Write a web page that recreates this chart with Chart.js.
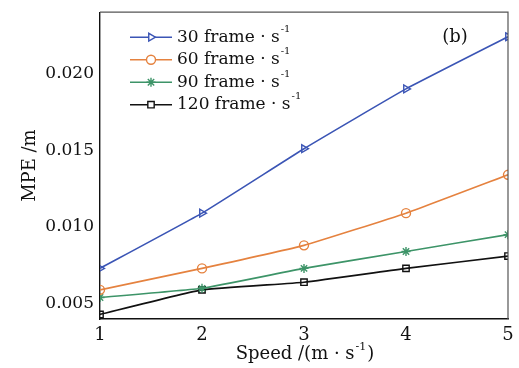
<!DOCTYPE html>
<html>
<head>
<meta charset="utf-8">
<script src="https://cdn.jsdelivr.net/npm/chart.js@4"></script>
<style>
  html, body { margin: 0; padding: 0; background: #fff; }
  #wrap { width: 519px; height: 368px; }
</style>
</head>
<body>
<div id="wrap"><canvas id="c" width="519" height="368"></canvas></div>
<script>
// ---------------------------------------------
// DATA
const speeds = [1, 2, 3, 4, 5];
const mpe30 = [0.0073, 0.0109, 0.0151, 0.0190, 0.0224];
const mpe60 = [0.0059, 0.0073, 0.0088, 0.0109, 0.0134];
const mpe90 = [0.0054, 0.0060, 0.0073, 0.0084, 0.0095];
const mpe120 = [0.0043, 0.0059, 0.0064, 0.0073, 0.0081];
const seriesNames = ["30 frame · s", "60 frame · s", "90 frame · s", "120 frame · s"];
const yTicks = [0.005, 0.010, 0.015, 0.020];

const FONT = "'DejaVu Serif', 'Liberation Serif', serif";
const colors = ["#3b55b5", "#e5823f", "#3d9468", "#111111"];
const styles = [
  { pointStyle: "triangle", rot: 90 },
  { pointStyle: "circle", rot: 0 },
  { pointStyle: "star", rot: 0 },
  { pointStyle: "rect", rot: 0 },
];

function makeSet(i, vals) {
  return {
    label: seriesNames[i],
    data: speeds.map((s, k) => ({ x: s, y: vals[k] })),
    borderColor: colors[i],
    backgroundColor: "#ffffff",
    borderWidth: 1.6,
    pointStyle: styles[i].pointStyle,
    pointRotation: styles[i].rot,
    pointRadius: 4.5,
    pointBorderWidth: 1.4,
    pointBorderColor: colors[i],
    pointBackgroundColor: "rgba(255,255,255,0)",
    tension: 0.12,
  };
}

// ---------------------------------------------
// legend + "(b)" + frame lines drawn by hand (superscripts)
const extras = {
  id: "extras",
  afterDraw(chart) {
    const ctx = chart.ctx;
    const a = chart.chartArea;
    ctx.save();
    // top + right frame
    ctx.strokeStyle = "#555";
    ctx.lineWidth = 1.2;
    ctx.beginPath();
    ctx.moveTo(a.left, a.top);
    ctx.lineTo(a.right, a.top);
    ctx.lineTo(a.right, a.bottom);
    ctx.stroke();

    // legend
    const x0 = a.left + 30;
    let y = a.top + 25;
    seriesNames.forEach((name, i) => {
      ctx.strokeStyle = colors[i];
      ctx.lineWidth = 1.6;
      ctx.beginPath();
      ctx.moveTo(x0, y);
      ctx.lineTo(x0 + 42, y);
      ctx.stroke();
      ctx.lineWidth = 1.4;
      ctx.fillStyle = "#ffffff";
      Chart.helpers.drawPoint(ctx, { pointStyle: styles[i].pointStyle, rotation: styles[i].rot, radius: 4.5, borderWidth: 1.4 }, x0 + 21, y);
      ctx.fillStyle = "#111";
      ctx.font = "17px " + FONT;
      ctx.textBaseline = "middle";
      ctx.textAlign = "left";
      ctx.fillText(name, x0 + 47, y);
      const w = ctx.measureText(name).width;
      ctx.font = "10px " + FONT;
      ctx.fillText("-1", x0 + 47 + w + 1, y - 8);
      y += 22.5;
    });

    // panel label
    ctx.font = "18px " + FONT;
    ctx.fillStyle = "#111";
    ctx.textAlign = "center";
    ctx.fillText("(b)", a.right - 53, a.top + 25);

    // x title with superscript
    ctx.textBaseline = "alphabetic";
    ctx.textAlign = "left";
    const t1 = "Speed /(m · s";
    const t2 = ")";
    ctx.font = "18px " + FONT;
    const w1 = ctx.measureText(t1).width;
    ctx.font = "11px " + FONT;
    const ws = ctx.measureText("-1").width;
    ctx.font = "18px " + FONT;
    const w2 = ctx.measureText(t2).width;
    let tx = (a.left + a.right) / 2 - (w1 + ws + w2) / 2;
    const ty = 359;
    ctx.fillText(t1, tx, ty);
    ctx.font = "11px " + FONT;
    ctx.fillText("-1", tx + w1 + 1, ty - 9);
    ctx.font = "18px " + FONT;
    ctx.fillText(t2, tx + w1 + ws + 2, ty);

    // y title
    ctx.translate(30, (a.top + a.bottom) / 2);
    ctx.rotate(-Math.PI / 2);
    ctx.textAlign = "center";
    ctx.textBaseline = "middle";
    ctx.fillText("MPE /m", 0, 0);
    ctx.restore();
  },
};

new Chart(document.getElementById("c"), {
  type: "line",
  data: {
    datasets: [makeSet(0, mpe30), makeSet(1, mpe60), makeSet(2, mpe90), makeSet(3, mpe120)],
  },
  options: {
    responsive: false,
    animation: false,
    layout: { padding: { top: 8, right: 11, left: 0, bottom: 0 } },
    plugins: { legend: { display: false }, tooltip: { enabled: false } },
    scales: {
      x: {
        type: "linear",
        min: 1,
        max: 5,
        afterBuildTicks: (s) => { s.ticks = speeds.map((v) => ({ value: v })); },
        afterFit: (s) => { s.height = 49; },
        grid: { display: false, drawTicks: true, tickLength: 4, tickColor: "#111" },
        border: { color: "#111", width: 1.4 },
        ticks: { color: "#111", font: { family: FONT, size: 18 }, padding: 2, callback: (v) => String(v) },
      },
      y: {
        min: 0.004,
        max: 0.024,
        afterBuildTicks: (s) => { s.ticks = yTicks.map((v) => ({ value: v })); },
        afterFit: (s) => { s.width = 100; },
        grid: { display: false, drawTicks: true, tickLength: 4, tickColor: "#111" },
        border: { color: "#111", width: 1.4 },
        ticks: { color: "#111", font: { family: FONT, size: 17 }, padding: 2, callback: (v) => v.toFixed(3) },
      },
    },
  },
  plugins: [extras],
});
</script>
</body>
</html>
